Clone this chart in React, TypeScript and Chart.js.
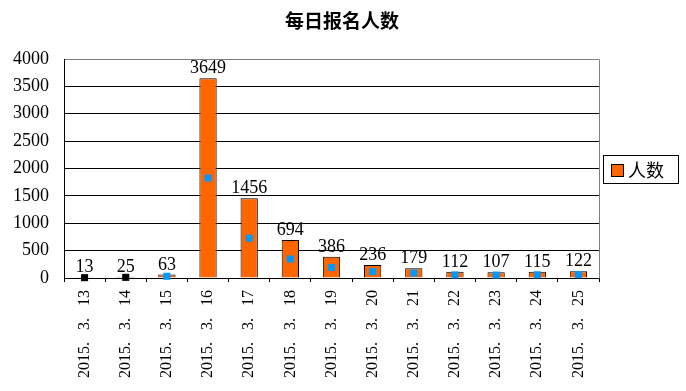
import React, { useEffect, useRef } from 'react';
import { Chart, registerables } from 'chart.js';

Chart.register(...registerables);

const TITLE = '每日报名人数';
const SERIES_NAME = '人数';
const categories = [
  '2015. 3. 13', '2015. 3. 14', '2015. 3. 15', '2015. 3. 16', '2015. 3. 17',
  '2015. 3. 18', '2015. 3. 19', '2015. 3. 20', '2015. 3. 21', '2015. 3. 22',
  '2015. 3. 23', '2015. 3. 24', '2015. 3. 25',
];
const counts = [13, 25, 63, 3649, 1456, 694, 386, 236, 179, 112, 107, 115, 122];
const markerValues = [6, 12, 31, 1825, 728, 347, 193, 118, 90, 56, 54, 58, 61];
const markerColors = [
  '#000000', '#000000', '#0099FF', '#0099FF', '#0099FF', '#0099FF', '#0099FF',
  '#0099FF', '#0099FF', '#0099FF', '#0099FF', '#0099FF', '#0099FF',
];
const Y_MIN = 0;
const Y_MAX = 4000;
const Y_STEP = 500;

const BAR_COLOR = '#FF6600';
const SERIF = '"Liberation Serif", "Times New Roman", serif';
const CJK = '"Noto Sans CJK SC", sans-serif';

const decorPlugin = {
  id: 'decor',
  beforeDatasetsDraw(chart: any) {
    const { ctx, chartArea } = chart;
    ctx.save();
    ctx.strokeStyle = '#808080';
    ctx.lineWidth = 1;
    ctx.beginPath();
    const rx = Math.round(chartArea.right) + 0.5;
    ctx.moveTo(rx, Math.round(chartArea.top) + 0.5);
    ctx.lineTo(rx, Math.round(chartArea.bottom) + 0.5);
    ctx.stroke();
    ctx.restore();
  },
  afterDatasetsDraw(chart: any) {
    const { ctx } = chart;
    const meta = chart.getDatasetMeta(0);
    ctx.save();
    ctx.fillStyle = '#000000';
    ctx.font = `18px ${SERIF}`;
    ctx.textAlign = 'center';
    ctx.textBaseline = 'alphabetic';
    meta.data.forEach((el: any, i: number) => {
      ctx.fillText(String(counts[i]), el.x, el.y - 5);
    });
    ctx.restore();
  },
  afterDraw(chart: any) {
    const { ctx, chartArea, width } = chart;
    ctx.save();
    // title
    ctx.fillStyle = '#000000';
    ctx.font = `bold 19px ${CJK}`;
    ctx.textAlign = 'center';
    ctx.textBaseline = 'middle';
    ctx.fillText(TITLE, width / 2 - 1, 21);
    // legend
    const bx = Math.round(chartArea.right) + 4;
    const bw = 75;
    const bh = 28;
    const by = Math.round((chartArea.top + chartArea.bottom) / 2 - bh / 2);
    ctx.strokeStyle = '#000000';
    ctx.lineWidth = 1;
    ctx.strokeRect(bx + 0.5, by + 0.5, bw, bh);
    ctx.fillStyle = BAR_COLOR;
    ctx.fillRect(bx + 8, by + 9, 12, 12);
    ctx.strokeRect(bx + 8.5, by + 9.5, 12, 12);
    ctx.fillStyle = '#000000';
    ctx.font = `18px ${CJK}`;
    ctx.textAlign = 'left';
    ctx.textBaseline = 'middle';
    ctx.fillText(SERIES_NAME, bx + 25, by + bh / 2 + 1);
    ctx.restore();
  },
};

export default function App() {
  const ref = useRef<HTMLCanvasElement | null>(null);
  useEffect(() => {
    if (!ref.current) return;
    const chart = new Chart(ref.current, {
      type: 'bar',
      data: {
        labels: categories,
        datasets: [
          {
            type: 'bar',
            label: SERIES_NAME,
            data: counts,
            backgroundColor: BAR_COLOR,
            borderColor: '#000000',
            borderWidth: 1,
            categoryPercentage: 1,
            barPercentage: 0.42,
            order: 1,
          },
          {
            type: 'line',
            label: 'marker',
            data: markerValues,
            showLine: false,
            pointStyle: 'rect',
            pointRadius: 5,
            pointBorderWidth: 0,
            pointBackgroundColor: markerColors,
            pointBorderColor: markerColors,
            clip: false,
            order: 0,
          } as any,
        ],
      },
      options: {
        animation: false,
        responsive: false,
        devicePixelRatio: 1,
        layout: { padding: { top: 59, left: 0, right: 87, bottom: 0 } },
        plugins: {
          legend: { display: false },
          title: { display: false },
          tooltip: { enabled: false },
        },
        scales: {
          x: {
            offset: true,
            afterFit: (s: any) => { s.height = 113; },
            grid: {
              offset: true,
              drawOnChartArea: false,
              drawTicks: true,
              tickLength: 4,
              color: '#000000',
            },
            border: { display: true, color: '#000000', width: 1 },
            ticks: {
              autoSkip: false,
              maxRotation: 90,
              minRotation: 90,
              padding: 8,
              color: '#000000',
              font: { family: SERIF, size: 16 },
              callback: (_v: any, i: number) => categories[i].split(' ').join('   '),
            },
          },
          y: {
            min: Y_MIN,
            max: Y_MAX,
            afterFit: (s: any) => { s.width = 64; },
            grid: {
              drawTicks: false,
              color: (c: any) => (c.tick && c.tick.value === Y_MAX ? '#808080' : '#000000'),
              lineWidth: 1,
            },
            border: { display: true, color: '#000000', width: 1 },
            ticks: {
              stepSize: Y_STEP,
              padding: 15,
              color: '#000000',
              font: { family: SERIF, size: 18 },
              callback: (v: any) => String(v),
            },
          },
        },
      },
      plugins: [decorPlugin],
    } as any);
    return () => chart.destroy();
  }, []);
  return (
    <div style={{ position: 'absolute', left: 0, top: 0, width: 686, height: 391, background: '#ffffff' }}>
      <canvas ref={ref} width={686} height={391} />
    </div>
  );
}
